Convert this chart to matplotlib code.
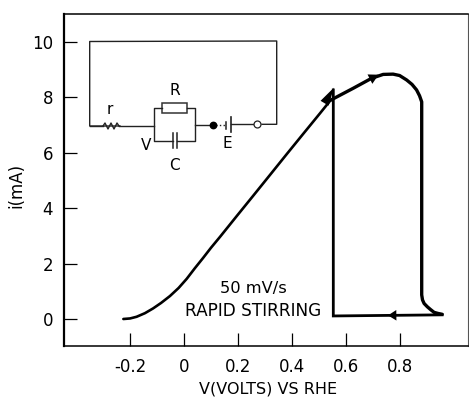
import matplotlib
matplotlib.use("Agg")
import matplotlib.pyplot as plt
from matplotlib.patches import Rectangle
from matplotlib.transforms import Affine2D

plt.rcParams['font.family'] = ['DejaVu Sans']

W, H = 469, 397

# Data
rise_v = [-0.225, -0.200, -0.176, -0.145, -0.115, -0.085, -0.052, -0.020, 0.010, 0.040, 0.0705, 0.100, 0.134, 0.196, 0.256, 0.319, 0.381, 0.442, 0.505, 0.544]
rise_i = [0.0, 0.02, 0.08, 0.21, 0.38, 0.58, 0.83, 1.12, 1.45, 1.83, 2.20, 2.57, 2.97, 3.72, 4.44, 5.20, 5.95, 6.68, 7.43, 7.90]
top_v = [0.544, 0.628, 0.696, 0.739, 0.776, 0.800, 0.826, 0.846, 0.863, 0.874, 0.882, 0.882, 0.882, 0.882, 0.882, 0.885, 0.891, 0.903, 0.915, 0.928, 0.943, 0.958]
top_i = [7.90, 8.33, 8.69, 8.83, 8.84, 8.79, 8.63, 8.47, 8.27, 8.06, 7.84, 7.00, 5.02, 1.05, 0.87, 0.69, 0.56, 0.44, 0.34, 0.24, 0.20, 0.17]
return_v = [0.958, 0.554, 0.554]
return_i = [0.15, 0.11, 8.27]
xticks = [-0.2, 0, 0.2, 0.4, 0.6, 0.8]
xticklabels = ['-0.2', '0', '0.2', '0.4', '0.6', '0.8']
yticks = [0, 2, 4, 6, 8, 10]

fig = plt.figure(figsize=(W / 100, H / 100), dpi=100)
L, R, T, B = 64, 468, 14, 346
ax = fig.add_axes([L / W, 1 - B / H, (R - L) / W, (B - T) / H])
ax.set_xlim((L - 184) / 269.5, (R - 184) / 269.5)
ax.set_ylim((319 - B) / 27.7, (319 - T) / 27.7)

ax.plot(rise_v, rise_i, color='#000000', lw=1.9, solid_capstyle='round')
ax.plot(top_v, top_i, color='#000000', lw=2.4, solid_capstyle='round', solid_joinstyle='round')
ax.plot(return_v, return_i, color='#000000', lw=2.0, solid_joinstyle='miter')


def head(tip, tail, length, width):
    style = f'-|>,head_length={length},head_width={width}'
    ax.annotate('', xy=tip, xytext=tail,
                arrowprops=dict(arrowstyle=style, color='#000000', lw=0, shrinkA=0, shrinkB=0))


head((0.556, 8.35), (0.495, 7.35), 1.3, 0.34)
head((0.722, 8.82), (0.650, 8.46), 0.7, 0.38)
head((0.757, 0.13), (0.83, 0.14), 0.6, 0.38)

ax.set_xticks(xticks, xticklabels)
ax.set_yticks(yticks)
ax.tick_params(axis='both', direction='in', length=9.5, width=0.9, labelsize=12, color='#000000', labelcolor='#000000')
ax.tick_params(axis='x', pad=9)
ax.tick_params(axis='y', pad=8)
ax.spines['left'].set_linewidth(1.6)
ax.spines['bottom'].set_linewidth(1.1)
ax.spines['top'].set_linewidth(1.1)
ax.spines['right'].set_linewidth(0.8)
ax.spines['right'].set_color('#555555')

# Circuit sketch and labels use picture pixels (y downwards)
px = Affine2D().scale(1, -1).translate(0, H)
wire = dict(color='#222222', lw=1.0, transform=px, clip_on=False)


def line(xs, ys, **kw):
    fig.add_artist(plt.Line2D(xs, ys, **{**wire, **kw}))


line([120, 89.7, 89.7, 276.7, 276.7, 262], [126, 126, 41.5, 41, 124.3, 124.3])
line([103, 105, 108, 111, 114, 117, 119], [126, 123, 129, 123, 129, 123, 126])
line([89.7, 103], [126, 126])
line([119, 153.7], [126, 126])
line([161.7, 153.7, 153.7, 173.3], [107.7, 107.7, 140.7, 140.7])
line([177.3, 195, 195, 187.3], [140.7, 140.7, 108.3, 108.3])
line([173.3, 173.3], [133.3, 148.3], lw=1.1)
line([177.3, 177.3], [133.3, 148.3], lw=1.1)
line([195, 212], [124.7, 124.7])
line([212, 226], [124.7, 124.7], ls=':')
line([226, 226], [121.5, 128.5], lw=1.1)
line([231, 231], [116.7, 131.7], lw=1.2)
line([231, 254], [124.3, 124.3])
fig.add_artist(Rectangle((161.7, 103.3), 25.6, 10, fill=False, ec='#333333', lw=1.1, transform=px))
line([212.7], [124.7], marker='o', ms=4.6, color='#000000', ls='none')
line([257.3], [124.3], marker='o', ms=5, mfc='white', mec='#222222', mew=0.9, ls='none')

for s, x, y, fs in [('R', 174.5, 90.5, 11), ('r', 110, 110, 11), ('V', 146, 146, 11), ('C', 174.7, 165, 11),
                    ('E', 227.7, 143.5, 11), ('50 mV/s', 253, 288, 11.7), ('RAPID STIRRING', 253, 310.7, 12.2),
                    ('V(VOLTS) VS RHE', 268, 388.5, 11.5)]:
    fig.text(x, y, s, transform=px, fontsize=fs, ha='center', va='center', color='#000000')
fig.text(16, 185, 'i(mA)', transform=px, fontsize=12, ha='center', va='center', rotation=90, color='#000000')

fig.savefig('out.png', dpi=100)
